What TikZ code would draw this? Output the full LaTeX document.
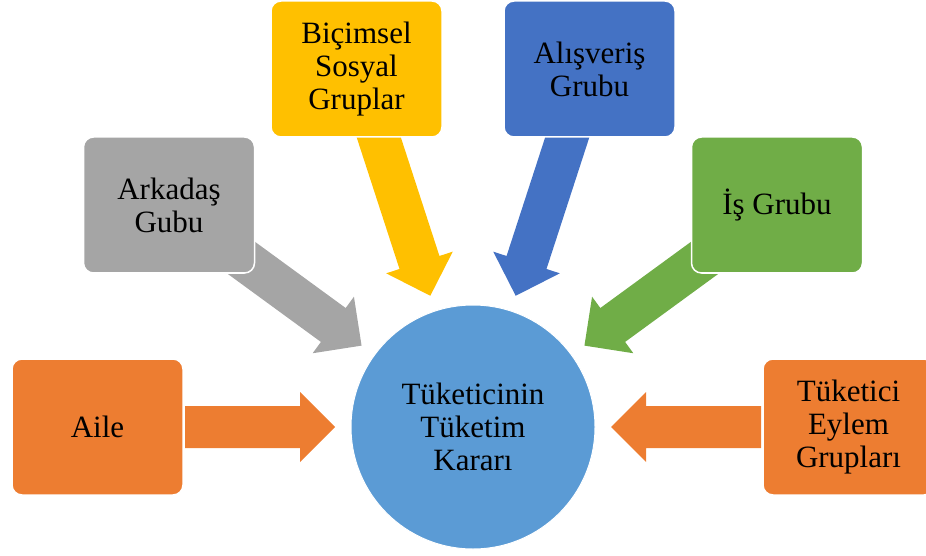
\documentclass[tikz,border=0pt]{standalone}
\usepackage{fontspec}
\setmainfont{Liberation Serif}
\usetikzlibrary{calc}

\definecolor{cOrange}{HTML}{ED7D31}
\definecolor{cGray}{HTML}{A5A5A5}
\definecolor{cYellow}{HTML}{FFC000}
\definecolor{cBlue}{HTML}{4472C4}
\definecolor{cGreen}{HTML}{70AD47}
\definecolor{cHub}{HTML}{5B9BD5}

\pgfdeclarelayer{arrows}
\pgfsetlayers{arrows,main}

\tikzset{
  groupbox/.style={draw=white, line width=1.5pt, rounded corners=10pt,
    minimum width=171pt, minimum height=136pt, inner sep=0pt,
    align=center, text=black, font=\fontsize{31}{33}\selectfont},
  hubcircle/.style={circle, fill=cHub, draw=white, line width=1pt,
    minimum size=244pt, inner sep=0pt, align=center, text=black,
    font=\fontsize{31}{33}\selectfont}
}

% block arrow from a group box towards the hub; #3 = tail distance from hub centre
\newcommand\feedarrow[3]{%
  \coordinate (fa-o) at (hub.center);
  \coordinate (fa-e) at (#1.center);
  \coordinate (fa-t) at ($(fa-o)!138pt!(fa-e)$);
  \coordinate (fa-b) at ($(fa-o)!173pt!(fa-e)$);
  \coordinate (fa-s) at ($(fa-o)!#3!(fa-e)$);
  \fill[#2] (fa-t) -- ($(fa-b)!35pt!90:(fa-e)$) -- ($(fa-b)!21pt!90:(fa-e)$)
    -- ($(fa-s)!21pt!90:(fa-e)$) -- ($(fa-s)!21pt!-90:(fa-e)$)
    -- ($(fa-b)!21pt!-90:(fa-e)$) -- ($(fa-b)!35pt!-90:(fa-e)$) -- cycle;
}

\begin{document}
\begin{tikzpicture}[x=1pt,y=1pt]
  \useasboundingbox (0,0) rectangle (926,555);
  \clip (0,0) rectangle (926,555);

  % hub
  \node[hubcircle] (hub) at (473,128) {Tüketicinin\\Tüketim\\Kararı};

  % surrounding groups
  \node[groupbox, fill=cOrange] (aile)    at (97.5,128)  {Aile};
  \node[groupbox, fill=cGray]   (arkadas) at (169,350)   {Arkadaş\\Gubu};
  \node[groupbox, fill=cYellow] (bicimsel) at (356.5,486) {Biçimsel\\Sosyal\\Gruplar};
  \node[groupbox, fill=cBlue]   (alisveris) at (589.5,486) {Alışveriş\\Grubu};
  \node[groupbox, fill=cGreen]  (is)      at (777,350)   {İş Grubu};
  \node[groupbox, fill=cOrange] (eylem)   at (848.5,128) {Tüketici\\Eylem\\Grupları};

  % arrows pointing into the hub, drawn beneath the boxes
  \begin{pgfonlayer}{arrows}
    \feedarrow{aile}{cOrange}{288pt}
    \feedarrow{arkadas}{cGray}{330pt}
    \feedarrow{bicimsel}{cYellow}{330pt}
    \feedarrow{alisveris}{cBlue}{330pt}
    \feedarrow{is}{cGreen}{330pt}
    \feedarrow{eylem}{cOrange}{288pt}
  \end{pgfonlayer}
\end{tikzpicture}
\end{document}
